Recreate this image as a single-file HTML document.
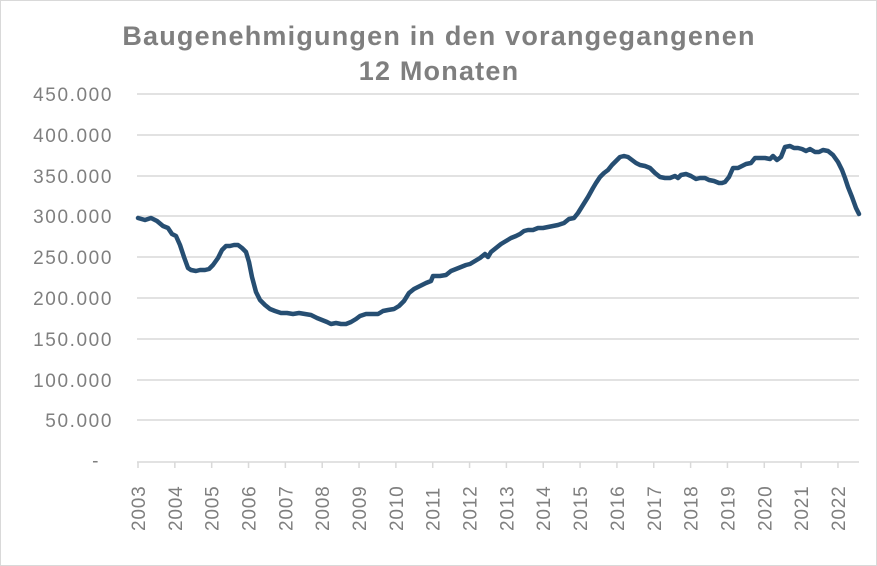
<!DOCTYPE html>
<html><head><meta charset="utf-8"><style>
html,body{margin:0;padding:0;background:#fff}
</style></head><body>
<svg width="877" height="566" xmlns="http://www.w3.org/2000/svg" style="display:block">
<rect x="0.5" y="0.5" width="876" height="565" fill="#fff" stroke="#d9d9d9"/>
<g font-family="Liberation Sans, sans-serif" fill="#7f7f7f">
<text x="439" y="45" text-anchor="middle" font-size="27" font-weight="bold" letter-spacing="1.2">Baugenehmigungen in den vorangegangenen</text>
<text x="439" y="80" text-anchor="middle" font-size="27" font-weight="bold" letter-spacing="1.2">12 Monaten</text>
<g stroke="#d9d9d9" stroke-width="1.5">
<line x1="137" x2="859" y1="94" y2="94"/><line x1="137" x2="859" y1="135" y2="135"/>
<line x1="137" x2="859" y1="176" y2="176"/><line x1="137" x2="859" y1="216" y2="216"/>
<line x1="137" x2="859" y1="257" y2="257"/><line x1="137" x2="859" y1="298" y2="298"/>
<line x1="137" x2="859" y1="339" y2="339"/><line x1="137" x2="859" y1="380" y2="380"/>
<line x1="137" x2="859" y1="420" y2="420"/><line x1="137" x2="859" y1="462" y2="462"/>
</g>
<g font-size="19" text-anchor="end" letter-spacing="1.6">
<text x="113" y="101">450.000</text><text x="113" y="142">400.000</text>
<text x="113" y="183">350.000</text><text x="113" y="223">300.000</text>
<text x="113" y="264">250.000</text><text x="113" y="305">200.000</text>
<text x="113" y="346">150.000</text><text x="113" y="387">100.000</text>
<text x="113" y="427">50.000</text><text x="100" y="467">-</text>
</g>
<g stroke="#d9d9d9" stroke-width="1.5" id="ticks"></g>
<g font-size="19" letter-spacing="0.8" id="yrs"></g>
</g>
<polyline fill="none" stroke="#264e72" stroke-width="4.5" stroke-linejoin="round" stroke-linecap="round" points="138,218 145,220 151,218 157,221 163,226 168,228 172,234 176,236 180,245 184,257 188,268 191,270 196,271 200,270 205,270 209,269 213,265 218,258 222,250 226,246 230,246 234,245 238,245 242,248 246,252 249,262 252,277 256,292 260,300 265,305 270,309 275,311 281,313 287,313 293,314 299,313 305,314 311,315 317,318 322,320 327,322 331,324 336,323 341,324 346,324 351,322 356,319 360,316 366,314 372,314 378,314 383,311 388,310 394,309 399,306 404,301 409,293 414,289 420,286 426,283 431,281 433,276 440,276 446,275 451,271 456,269 461,267 466,265 470,264 475,261 480,258 485,254 488,257 491,252 496,248 501,244 506,241 511,238 516,236 520,234 524,231 528,230 533,230 538,228 543,228 548,227 553,226 558,225 564,223 569,219 574,218 578,213 583,205 588,197 593,188 596,183 600,177 604,173 608,170 612,165 616,161 620,157 624,156 628,157 632,160 636,163 640,165 645,166 650,168 655,173 660,177 665,178 670,178 675,176 678,178 681,175 686,174 691,176 696,179 700,178 705,178 709,180 714,181 719,183 722,183 725,182 729,177 733,168 738,168 742,166 746,164 751,163 755,158 760,158 765,158 770,159 773,156 777,160 781,157 785,147 790,146 794,148 798,148 802,149 806,151 810,149 815,152 819,152 823,150 828,151 833,155 838,162 842,170 845,178 848,187 852,197 856,208 859,214"/>
<script>
var t=document.getElementById('ticks'),y=document.getElementById('yrs'),ns='http://www.w3.org/2000/svg';
for(var i=0;i<20;i++){var x=138+i*36.84;
var l=document.createElementNS(ns,'line');l.setAttribute('x1',x);l.setAttribute('x2',x);l.setAttribute('y1',462);l.setAttribute('y2',468);t.appendChild(l);
var tx=document.createElementNS(ns,'text');tx.setAttribute('transform','translate('+(x+7)+',531) rotate(-90)');tx.textContent=2003+i;y.appendChild(tx);}
</script>
</svg>
</body></html>
